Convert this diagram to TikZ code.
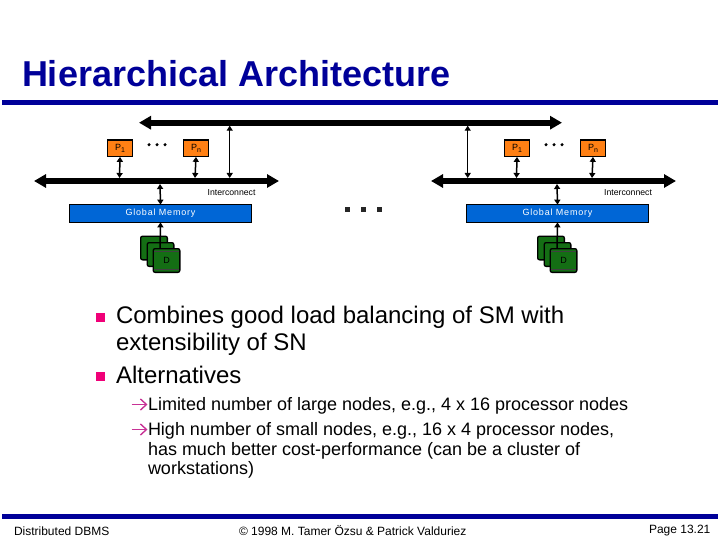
\documentclass[tikz,border=0pt]{standalone}
\usepackage{fontspec}
\setmainfont{Liberation Sans}
\definecolor{navy}{RGB}{0,0,153}
\definecolor{procfill}{RGB}{255,128,20}
\definecolor{memfill}{RGB}{0,102,214}
\definecolor{diskfill}{RGB}{20,110,20}
\definecolor{bulletc}{RGB}{240,0,120}
\definecolor{arrowc}{RGB}{200,50,150}
\usetikzlibrary{arrows.meta}
\newfontfamily\spaced[LetterSpace=9]{Liberation Sans}
\tikzset{
  every node/.style={inner sep=0pt,outer sep=0pt},
  bus/.style={line width=6pt,{Triangle[length=12pt,width=13pt]}-{Triangle[length=12pt,width=13pt]}},
  link/.style={line width=1.5pt,{Triangle[length=5pt,width=6pt]}-{Triangle[length=5pt,width=6pt]}},
  uplink/.style={line width=1.5pt,{Triangle[length=5pt,width=6pt]}-},
  proc/.style={draw=black,line width=1.3pt,fill=procfill,minimum width=24.7pt,minimum height=16.7pt,font=\fontsize{9}{9}\selectfont},
  mem/.style={draw=black,line width=1.3pt,fill=memfill,minimum width=181.7pt,minimum height=17.7pt,text=white,font=\spaced\fontsize{9}{9}\selectfont},
  disk/.style={draw=black,line width=1.3pt,fill=diskfill,rounded corners=2pt,minimum width=26.7pt,minimum height=23.7pt,font=\fontsize{9}{9}\selectfont},
  rim/.style={line width=.6pt,black!75},
  lab/.style={font=\fontsize{8.7}{8.7}\selectfont},
  dot/.style={fill=black,circle,minimum size=3.4pt},
  sq/.style={fill=black!85,minimum size=4.6pt},
  bul/.style={fill=bulletc,minimum size=9pt},
  l1/.style={anchor=base west,font=\fontsize{24}{24}\selectfont},
  l2/.style={anchor=base west,font=\fontsize{18}{18}\selectfont},
  foot/.style={anchor=base west,font=\fontsize{12}{12}\selectfont},
  rule/.style={draw=navy,line width=5pt},
  subarrow/.style={draw=arrowc,line width=1.4pt,-{Straight Barb[length=6pt,width=11pt]}}
}
\begin{document}
\begin{tikzpicture}[x=1pt,y=-1pt]
\useasboundingbox (0,0) rectangle (720,540);
\fill[white] (0,0) rectangle (720,540);
\node[anchor=base west,text=navy,font=\bfseries\fontsize{36}{36}\selectfont] (title) at (22,87) {Hierarchical Architecture};
\coordinate (rl) at (2,102.5); \coordinate (rr) at (718,102.5);
\draw[rule] (rl) -- (rr);
% top bus
\coordinate (topl) at (139,122.7); \coordinate (topr) at (562,122.7);
\draw[bus] (topl) -- (topr);
\foreach \o/\p in {0/a,397/b}{
  \begin{scope}[xshift=\o pt]
  \node[proc] (p1\p) at (120,148.5) {P\raisebox{-2pt}{\fontsize{7}{7}\selectfont 1}};
  \node[proc] (pn\p) at (196,148.5) {P\raisebox{-2pt}{\fontsize{7}{7}\selectfont n}};
  \node[dot] (d1\p) at (149,144.7) {};
  \node[dot] (d2\p) at (157,144.7) {};
  \node[dot] (d3\p) at (165,144.7) {};
  \coordinate (bl\p) at (34,181); \coordinate (br\p) at (279,181);
  \draw[bus] (bl\p) -- (br\p);
  \coordinate (b1\p) at (119.5,178); \coordinate (bn\p) at (195,178); \coordinate (bm\p) at (160,184);
  \draw[link] (p1\p.south) -- (b1\p);
  \draw[link] (pn\p.south) -- (bn\p);
  \node[mem] (m\p) at (160.5,213.5) {Global Memory};
  \draw[link] (bm\p) -- (m\p.north);
  \node[disk] (da\p) at (154,248) {};
  \node[disk] (db\p) at (160.5,254.5) {};
  \coordinate (dt\p) at (160,250);
  \draw[uplink] (m\p.south) -- (dt\p);
  \node[disk] (dc\p) at (166.5,260.5) {D};
  \draw[rim] ([xshift=1pt,yshift=-3pt]dc\p.north west) -- ([xshift=-1pt,yshift=-3pt]dc\p.north east);
  \draw[rim] ([xshift=1pt,yshift=3pt]dc\p.south west) -- ([xshift=-1pt,yshift=3pt]dc\p.south east);
  \end{scope}
}
\node[lab,anchor=base east] (ia) at (255.5,196) {Interconnect};
\node[lab,anchor=base east] (ib) at (652,196) {Interconnect};
\coordinate (ta) at (229.7,125.7); \coordinate (fa) at (229.7,178);
\coordinate (tb) at (467.7,125.7); \coordinate (fb) at (467.7,178);
\draw[link] (ta) -- (fa);
\draw[link] (tb) -- (fb);
\node[sq] (s1) at (347.7,209.3) {};
\node[sq] (s2) at (363.7,209.3) {};
\node[sq] (s3) at (379.7,209.3) {};
% bullets
\node[bul] (b1) at (100.5,317) {};
\node[bul] (b2) at (100.5,376.5) {};
\node[l1] (t1) at (116,323) {Combines good load balancing of SM with};
\node[l1] (t1b) at (116,350) {extensibility of SN};
\node[l1] (t2) at (116,383) {Alternatives};
\coordinate (a1s) at (131.5,404.5); \coordinate (a1e) at (147.5,404.5);
\coordinate (a2s) at (131.5,429.5); \coordinate (a2e) at (147.5,429.5);
\draw[subarrow] (a1s) -- (a1e);
\draw[subarrow] (a2s) -- (a2e);
\node[l2] (u1) at (148,410) {Limited number of large nodes, e.g., 4 x 16 processor nodes};
\node[l2] (u2) at (148,435) {High number of small nodes, e.g., 16 x 4 processor nodes,};
\node[l2] (u2b) at (148,455) {has much better cost-performance (can be a cluster of};
\node[l2] (u2c) at (148,474) {workstations)};
% footer
\coordinate (fl) at (2,516.3); \coordinate (fr) at (718,516.3);
\draw[rule] (fl) -- (fr);
\node[foot] (f1) at (14,535) {Distributed DBMS};
\node[foot] (f2) at (239,535) {© 1998 M. Tamer Özsu \& Patrick Valduriez};
\node[foot] (f3) at (649,533) {Page 13.21};
\end{tikzpicture}
\end{document}
